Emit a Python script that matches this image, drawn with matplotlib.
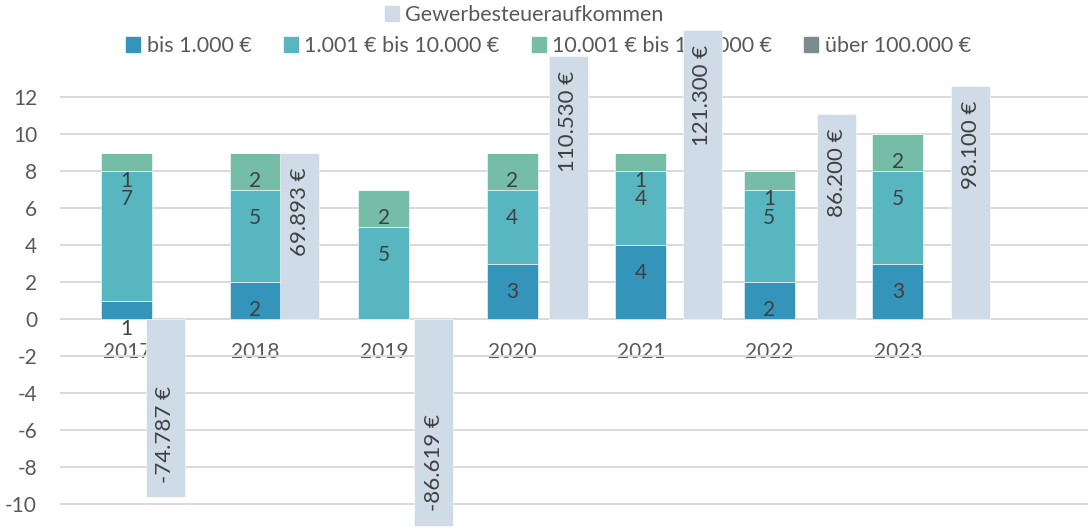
import matplotlib
matplotlib.use("Agg")
import matplotlib.pyplot as plt
from matplotlib.patches import Patch
import numpy as np

plt.rcParams['font.family'] = ['Lato', 'DejaVu Sans']
plt.rcParams['axes.unicode_minus'] = False

years = ['2017', '2018', '2019', '2020', '2021', '2022', '2023']
bis_1000 = [1, 2, 0, 3, 4, 2, 3]
bis_10000 = [7, 5, 5, 4, 4, 5, 5]
bis_100000 = [1, 2, 2, 2, 1, 1, 2]
ueber_100000 = [0, 0, 0, 0, 0, 0, 0]
gewerbesteuer = [-74787, 69893, -86619, 110530, 121300, 86200, 98100]

series_names = ['bis 1.000 €', '1.001 € bis 10.000 €', '10.001 € bis 100.000 €', 'über 100.000 €']
series_vals = [bis_1000, bis_10000, bis_100000, ueber_100000]
series_colors = ['#3494BA', '#58B6C0', '#75BDA7', '#7A8C8E']
gew_name = 'Gewerbesteueraufkommen'
gew_color = '#CFDBE6'
text_dark = '#404040'
tick_color = '#595959'

W, H = 1088, 530
fig = plt.figure(figsize=(W / 100, H / 100), dpi=100)
fig.patch.set_facecolor('white')
ax = fig.add_axes([60 / W, 0, 1 - 60 / W, 1])
ax.patch.set_visible(False)

ylim = (-11.39, 17.26)
ax.set_ylim(*ylim)
ax.set_xlim(-0.52, 7.48)

x = np.arange(len(years))
bottom = np.zeros(len(years))
for name, vals, col in zip(series_names, series_vals, series_colors):
    vals = np.array(vals, dtype=float)
    ax.bar(x, vals, width=0.397, bottom=bottom, color=col, edgecolor='white',
           linewidth=0.4, label=name, zorder=2)
    tops = bottom + vals
    for xi, v, t in zip(x, vals, tops):
        if v > 0:
            ax.text(xi, t - 1.5, f"{int(v)}", ha='center', va='center',
                    fontsize=15, color=text_dark, zorder=3)
    bottom = tops

ax.set_yticks(np.arange(-10, 13, 2))
ax.yaxis.grid(True, color='#D9D9D9', linewidth=1.4)
ax.set_axisbelow(True)
for s in ax.spines.values():
    s.set_visible(False)
ax.spines['bottom'].set_position(('data', 0))
ax.set_xticks(x)
ax.set_xticklabels(years)
ax.tick_params(axis='y', length=0, pad=16.5, labelsize=15, labelcolor=tick_color)
ax.tick_params(axis='x', length=0, pad=16.5, labelsize=15, labelcolor=tick_color)

# secondary axis for Gewerbesteueraufkommen
scale = 7765
ax2 = ax.twinx()
ax2.set_ylim(ylim[0] * scale, ylim[1] * scale)
ax2.yaxis.set_visible(False)
for s in ax2.spines.values():
    s.set_visible(False)
x2 = 0.301 + 1.0444 * x
ax2.bar(x2, gewerbesteuer, width=0.303, color=gew_color, edgecolor='white',
        linewidth=0.4, zorder=2)
for xi, v in zip(x2, gewerbesteuer):
    lbl = f"{v:,}".replace(',', '.') + " €"
    if v >= 0:
        ax2.annotate(lbl, (xi, v), xytext=(0, -10.5), textcoords='offset points',
                     rotation=90, ha='center', va='top', fontsize=16, color=text_dark)
    else:
        ax2.annotate(lbl, (xi, v), xytext=(0, 10.5), textcoords='offset points',
                     rotation=90, ha='center', va='bottom', fontsize=16, color=text_dark)

# legends (drawn beneath the plot content)
fs = 15.5
leg1 = fig.legend([Patch(color=gew_color)], [gew_name], loc='center',
                  bbox_to_anchor=(524 / W, 1 - 15 / H), frameon=False, fontsize=fs,
                  handlelength=0.65, handleheight=0.65, handletextpad=0.3,
                  labelcolor=tick_color, borderpad=0, borderaxespad=0)
leg1.set_zorder(-1)
handles = [Patch(color=c) for c in series_colors]
leg2 = fig.legend(handles, series_names, loc='center', ncol=4,
                  bbox_to_anchor=(548.5 / W, 1 - 46 / H), frameon=False, fontsize=fs,
                  handlelength=0.65, handleheight=0.65, handletextpad=0.3,
                  columnspacing=1.5, labelcolor=tick_color, borderpad=0,
                  borderaxespad=0)
leg2.set_zorder(-1)

fig.savefig('out.png', dpi=100)
